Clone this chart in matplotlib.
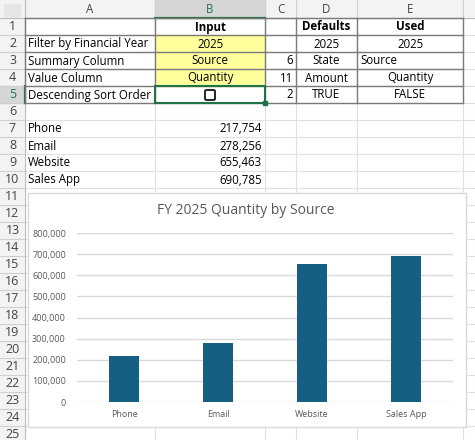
import matplotlib
matplotlib.use("Agg")
import matplotlib.pyplot as plt
from matplotlib.patches import Rectangle, FancyBboxPatch

plt.rcParams['font.family'] = ['Open Sans', 'DejaVu Sans']

# data
categories = ["Phone", "Email", "Website", "Sales App"]
quantities = [217754, 278256, 655463, 690785]
yticks = [0, 100000, 200000, 300000, 400000, 500000, 600000, 700000, 800000]

col_letters = ["A", "B", "C", "D", "E"]
labels_a = ["", "Filter by Financial Year", "Summary Column", "Value Column", "Descending Sort Order"]
input_b = ["Input", "2025", "Source", "Quantity", ""]
index_c = ["", "", "6", "11", "2"]
defaults_d = ["Defaults", "2025", "State", "Amount", "TRUE"]
used_e = ["Used", "2025", "Source", "Quantity", "FALSE"]

W, H = 475, 440
fig = plt.figure(figsize=(W / 100, H / 100), dpi=100)
ax0 = fig.add_axes([0, 0, 1, 1])
ax0.set_xlim(0, W)
ax0.set_ylim(H, 0)
ax0.axis("off")

head_h = 18
row_h = 17
cols = [25, 155, 265, 296, 357, 463, 520]
nrows = 26
gridc = "#e1e1e1"
fs = 8.3

def ry(r):
    return head_h + (r - 1) * row_h

# sheet gridlines
for x in cols:
    ax0.plot([x, x], [0, H], color=gridc, lw=0.8, zorder=1)
for r in range(1, nrows + 1):
    ax0.plot([0, W], [ry(r), ry(r)], color=gridc, lw=0.8, zorder=1)

# headers
ax0.add_patch(Rectangle((0, 0), W, head_h, color="#f3f3f3", zorder=2))
ax0.add_patch(Rectangle((0, 0), cols[0], H, color="#f3f3f3", zorder=2))
ax0.add_patch(Rectangle((cols[1], 0), cols[2] - cols[1], head_h, color="#d6d6d6", zorder=2))
ax0.add_patch(Rectangle((0, ry(5)), cols[0], row_h, color="#d6d6d6", zorder=2))
for x in cols:
    ax0.plot([x, x], [0, head_h], color="#cfcfcf", lw=0.8, zorder=3)
for r in range(1, nrows + 1):
    ax0.plot([0, cols[0]], [ry(r), ry(r)], color="#cfcfcf", lw=0.8, zorder=3)
ax0.plot([0, W], [head_h, head_h], color="#bdbdbd", lw=0.8, zorder=3)
ax0.plot([cols[0], cols[0]], [0, H], color="#bdbdbd", lw=0.8, zorder=3)
ax0.plot([cols[1], cols[2]], [head_h, head_h], color="#217346", lw=1.6, zorder=4)
ax0.plot([cols[0], cols[0]], [ry(5), ry(6)], color="#217346", lw=1.6, zorder=4)
ax0.add_patch(Rectangle((4, 4), 16, 12, color="#e6e6e6", zorder=3))

for i, c in enumerate(col_letters):
    clr = "#217346" if c == "B" else "#444444"
    ax0.text((cols[i] + cols[i + 1]) / 2, head_h / 2 + 0.5, c, ha="center", va="center",
             fontsize=fs, color=clr, zorder=5)
for r in range(1, nrows):
    clr = "#217346" if r == 5 else "#444444"
    ax0.text(cols[0] / 2, ry(r) + row_h / 2, str(r), ha="center", va="center",
             fontsize=fs + 0.7, color=clr, zorder=5)

# yellow input cells
for r in (2, 3, 4):
    ax0.add_patch(Rectangle((cols[1], ry(r)), cols[2] - cols[1], row_h, color="#ffff9c", zorder=2))

# table borders
bc = "#7a7a7a"
for r in range(1, 7):
    ax0.plot([cols[0], cols[5]], [ry(r), ry(r)], color=bc, lw=1.0, zorder=4)
for x in cols[:6]:
    ax0.plot([x, x], [ry(1), ry(6)], color=bc, lw=1.0, zorder=4)

# cell text
for i in range(5):
    r = i + 1
    yc = ry(r) + row_h / 2 + 0.5
    bold = "bold" if r == 1 else "normal"
    ax0.text(cols[0] + 3, yc, labels_a[i], ha="left", va="center", fontsize=fs, zorder=5)
    ax0.text((cols[1] + cols[2]) / 2, yc, input_b[i], ha="center", va="center",
             fontsize=fs, fontweight=bold, zorder=5)
    ax0.text(cols[3] - 3, yc, index_c[i], ha="right", va="center", fontsize=fs, zorder=5)
    ax0.text((cols[3] + cols[4]) / 2, yc, defaults_d[i], ha="center", va="center",
             fontsize=fs, fontweight=bold, zorder=5)
    if r == 3:
        ax0.text(cols[4] + 3, yc, used_e[i], ha="left", va="center", fontsize=fs, zorder=5)
    else:
        ax0.text((cols[4] + cols[5]) / 2, yc, used_e[i], ha="center", va="center",
                 fontsize=fs, fontweight=bold, zorder=5)

# checkbox
ax0.add_patch(FancyBboxPatch((205, ry(5) + 4), 10, 10, boxstyle="round,pad=0,rounding_size=1.5",
                             fc="white", ec="#222222", lw=1.4, zorder=6))

# selection border on B5
ax0.add_patch(Rectangle((cols[1], ry(5)), cols[2] - cols[1], row_h, fill=False,
                        ec="#217346", lw=1.5, zorder=6))
ax0.add_patch(Rectangle((cols[2] - 2, ry(6) - 2), 4, 4, color="#217346", zorder=7))

# summary list
for i, (cat, q) in enumerate(zip(categories, quantities)):
    yc = ry(7 + i) + row_h / 2 + 0.5
    ax0.text(cols[0] + 3, yc, cat, ha="left", va="center", fontsize=fs, zorder=5)
    ax0.text(cols[2] - 3, yc, f"{q:,}", ha="right", va="center", fontsize=fs, zorder=5)

# chart area
ax0.add_patch(Rectangle((28, 193), 438, 234, fc="white", ec="#d9d9d9", lw=1.0, zorder=8))
ax0.text(246, 211, "FY 2025 Quantity by Source", ha="center", va="center",
         fontsize=10, color="#595959", zorder=9)

ax = fig.add_axes([77 / W, 1 - 402 / H, 376 / W, 169 / H], zorder=10)
ax.patch.set_alpha(0)
x = range(len(categories))
ax.bar(x, quantities, width=0.31, color="#156082", zorder=3)
ax.set_xlim(-0.5, len(categories) - 0.5)
ax.set_ylim(0, 800000)
ax.set_yticks(yticks)
ax.set_yticklabels([f"{v:,}" for v in yticks])
ax.set_xticks(list(x))
ax.set_xticklabels(categories)
ax.tick_params(length=0, labelsize=6.5, labelcolor="#595959", pad=8)
ax.tick_params(axis="x", pad=6)
ax.grid(axis="y", color="#d9d9d9", lw=1.0, zorder=0)
for s in ax.spines.values():
    s.set_visible(False)

fig.savefig("out.png", dpi=100)
